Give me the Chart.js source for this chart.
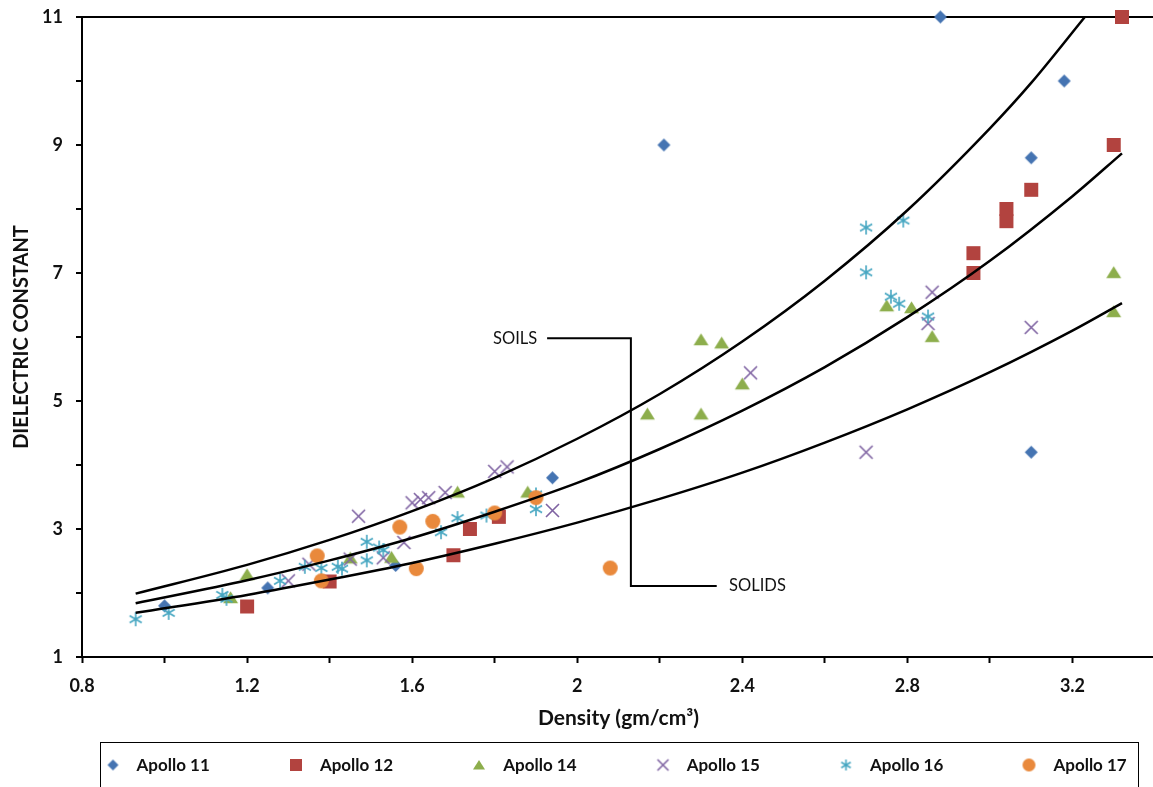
<!DOCTYPE html>
<html>
<head>
<meta charset="utf-8">
<script src="https://cdn.jsdelivr.net/npm/chart.js@4.4.1/dist/chart.umd.min.js"></script>
<style>
  body { margin: 0; overflow: hidden; background: #fff; }
  #wrap { position: relative; width: 1153px; height: 787px; overflow: hidden; }
  #legend {
    position: absolute; left: 100px; top: 742px; width: 1039px; height: 70px;
    box-sizing: border-box; border: 1.5px solid #000;
    display: flex; padding: 11.5px 0 0 3.5px;
    font: bold 17px Lato, sans-serif; color: #111;
  }
  #legend .item { flex: 0 0 183.4px; display: flex; align-items: center; height: 20px; }
  #legend canvas { width: 16px; height: 16px; margin-right: 16px; }
</style>
</head>
<body>
<div id="wrap">
  <canvas id="chart" width="1163" height="787"></canvas>
  <div id="legend"></div>
</div>
<script>
// measured points, density (gm/cm3) vs dielectric constant
const apollo11X = [1.00, 1.25, 1.56, 1.94, 2.21, 2.88, 3.18, 3.10, 3.10]
const apollo11Y = [1.80, 2.08, 2.43, 3.80, 9.00, 11.0, 10.0, 8.80, 4.20]

const apollo12X = [1.20, 1.40, 1.70, 1.74, 1.81, 2.96, 2.96, 3.04, 3.04, 3.10, 3.30, 3.32]
const apollo12Y = [1.79, 2.18, 2.59, 3.00, 3.19, 7.31, 7.00, 7.81, 8.00, 8.30, 9.00, 11.0]

const apollo14X = [1.16, 1.20, 1.45, 1.55, 1.71, 1.88, 2.17, 2.30, 2.30, 2.35, 2.40, 2.75, 2.81, 2.86, 3.30, 3.30]
const apollo14Y = [1.93, 2.29, 2.55, 2.56, 3.58, 3.58, 4.80, 5.96, 4.80, 5.91, 5.27, 6.49, 6.46, 6.01, 7.01, 6.40]

const apollo15X = [1.30, 1.35, 1.45, 1.47, 1.53, 1.58, 1.60, 1.62, 1.64, 1.68, 1.80, 1.83, 1.94, 2.42, 2.70, 2.85, 2.86, 3.10]
const apollo15Y = [2.19, 2.45, 2.53, 3.20, 2.55, 2.79, 3.41, 3.46, 3.49, 3.57, 3.90, 3.97, 3.29, 5.44, 4.20, 6.21, 6.70, 6.15]

const apollo16X = [0.93, 1.01, 1.14, 1.15, 1.28, 1.34, 1.38, 1.42, 1.43, 1.49, 1.49, 1.52, 1.53, 1.67, 1.71, 1.78, 1.90, 1.90, 2.70, 2.79, 2.70, 2.76, 2.78, 2.85]
const apollo16Y = [1.59, 1.69, 1.97, 1.91, 2.19, 2.41, 2.39, 2.41, 2.38, 2.80, 2.51, 2.71, 2.67, 2.95, 3.17, 3.21, 3.54, 3.31, 7.71, 7.82, 7.01, 6.63, 6.52, 6.32]

const apollo17X = [1.37, 1.38, 1.57, 1.61, 1.65, 1.80, 1.90, 2.08]
const apollo17Y = [2.58, 2.19, 3.03, 2.38, 3.12, 3.25, 3.49, 2.39]

// the three trend curves
const upperX = [0.93, 1.2, 1.4, 1.6, 1.8, 2.0, 2.2, 2.4, 2.6, 2.8, 3.0, 3.1, 3.23]
const upperY = [1.99, 2.44, 2.83, 3.28, 3.80, 4.41, 5.11, 5.93, 6.88, 7.98, 9.26, 9.97, 11.0]
const middleX = [0.93, 1.2, 1.4, 1.6, 1.8, 2.0, 2.2, 2.4, 2.6, 2.8, 3.0, 3.2, 3.32]
const middleY = [1.84, 2.20, 2.51, 2.86, 3.27, 3.72, 4.25, 4.85, 5.53, 6.31, 7.19, 8.20, 8.87]
const lowerX = [0.93, 1.2, 1.4, 1.6, 1.8, 2.0, 2.2, 2.4, 2.6, 2.8, 3.0, 3.2, 3.32]
const lowerY = [1.69, 1.97, 2.21, 2.47, 2.77, 3.10, 3.47, 3.88, 4.35, 4.87, 5.45, 6.10, 6.53]

// SOILS / SOLIDS callout
const calloutX = [1.927, 2.13, 2.13, 2.338]
const calloutY = [5.98, 5.98, 2.11, 2.11]
const soilsAt = [1.903, 5.98]
const solidsAt = [2.368, 2.11]

const xTicks = ['0.8', '1.2', '1.6', '2', '2.4', '2.8', '3.2']
const yTicks = ['1', '3', '5', '7', '9', '11']

const pairs = (xs, ys) => xs.map((x, i) => ({ x: x, y: ys[i] }))

const series = [
  { label: 'Apollo 11', xs: apollo11X, ys: apollo11Y, shape: 'diamond', color: '#4574B2', size: 13, legendSize: 11 },
  { label: 'Apollo 12', xs: apollo12X, ys: apollo12Y, shape: 'square', color: '#B2433F', size: 14, legendSize: 12 },
  { label: 'Apollo 14', xs: apollo14X, ys: apollo14Y, shape: 'triangle', color: '#8DAE4C', size: 15, legendSize: 12 },
  { label: 'Apollo 15', xs: apollo15X, ys: apollo15Y, shape: 'cross', color: '#7F63A2', size: 13, legendSize: 11 },
  { label: 'Apollo 16', xs: apollo16X, ys: apollo16Y, shape: 'asterisk', color: '#45A6C1', size: 14, legendSize: 11 },
  { label: 'Apollo 17', xs: apollo17X, ys: apollo17Y, shape: 'circle', color: '#E9893C', size: 15, legendSize: 13 }
]

function makeMarker(shape, color, size) {
  const c = document.createElement('canvas')
  c.width = c.height = size + 4
  const g = c.getContext('2d')
  const m = c.width / 2
  const r = size / 2
  g.fillStyle = color
  g.strokeStyle = color
  g.lineWidth = 1.6
  g.beginPath()
  if (shape === 'diamond') {
    g.moveTo(m, m - r); g.lineTo(m + r, m); g.lineTo(m, m + r); g.lineTo(m - r, m)
    g.closePath(); g.fill()
  } else if (shape === 'square') {
    g.rect(m - r, m - r, size, size); g.fill()
  } else if (shape === 'triangle') {
    g.moveTo(m, m - r * 0.85); g.lineTo(m + r, m + r * 0.75); g.lineTo(m - r, m + r * 0.75)
    g.closePath(); g.fill()
  } else if (shape === 'cross') {
    g.moveTo(m - r, m - r); g.lineTo(m + r, m + r)
    g.moveTo(m + r, m - r); g.lineTo(m - r, m + r)
    g.stroke()
  } else if (shape === 'asterisk') {
    g.moveTo(m, m - r); g.lineTo(m, m + r)
    for (const a of [Math.PI / 6, -Math.PI / 6]) {
      g.moveTo(m - r * Math.cos(a), m - r * Math.sin(a))
      g.lineTo(m + r * Math.cos(a), m + r * Math.sin(a))
    }
    g.stroke()
  } else {
    g.arc(m, m, r, 0, Math.PI * 2); g.fill()
  }
  return c
}

const curve = (xs, ys) => ({
  type: 'line',
  data: pairs(xs, ys),
  borderColor: '#000',
  borderWidth: 2.5,
  pointRadius: 0,
  cubicInterpolationMode: 'monotone',
  fill: false,
  order: 0,
  clip: false
})

const datasets = series.map((s, i) => ({
  type: 'scatter',
  label: s.label,
  data: pairs(s.xs, s.ys),
  pointStyle: makeMarker(s.shape, s.color, s.size),
  pointRadius: 7,
  order: series.length - i + 1,
  clip: false
}))
datasets.push(curve(upperX, upperY), curve(middleX, middleY), curve(lowerX, lowerY))
datasets.push({
  type: 'line',
  data: pairs(calloutX, calloutY),
  borderColor: '#000',
  borderWidth: 2,
  pointRadius: 0,
  tension: 0,
  order: 0
})

const calloutText = {
  id: 'calloutText',
  afterDatasetsDraw(chart) {
    const { ctx, scales: { x, y } } = chart
    ctx.save()
    ctx.font = '16.5px Lato'
    ctx.fillStyle = '#111'
    ctx.textBaseline = 'middle'
    ctx.textAlign = 'right'
    ctx.fillText('SOILS', x.getPixelForValue(soilsAt[0]), y.getPixelForValue(soilsAt[1]))
    ctx.textAlign = 'left'
    ctx.fillText('SOLIDS', x.getPixelForValue(solidsAt[0]), y.getPixelForValue(solidsAt[1]))
    ctx.restore()
  }
}

const labelFor = (list) => (value) => {
  const text = String(+Number(value).toFixed(1))
  return list.includes(text) ? text : ''
}

Chart.defaults.font.family = 'Lato'
Chart.defaults.color = '#111'

new Chart(document.getElementById('chart'), {
  type: 'scatter',
  data: { datasets: datasets },
  options: {
    responsive: false,
    animation: false,
    events: [],
    layout: { padding: { top: 17, left: 0, right: 0, bottom: 52 } },
    plugins: { legend: { display: false }, tooltip: { enabled: false } },
    scales: {
      x: {
        type: 'linear',
        min: 0.8,
        max: 3.4,
        ticks: { stepSize: 0.2, autoSkip: false, maxRotation: 0, padding: 12,
          font: { size: 18, weight: 'bold' }, callback: labelFor(xTicks) },
        grid: { drawOnChartArea: false, tickLength: 6, tickColor: '#000', tickWidth: 2 },
        border: { color: '#000', width: 2 },
        title: { display: true, text: 'Density (gm/cm³)', font: { size: 21, weight: 'bold' },
          padding: { top: 0, bottom: 4 } },
        afterFit(scale) {
          scale.height = 78
          scale.paddingLeft = 0
          scale.paddingRight = 0
        }
      },
      y: {
        min: 1,
        max: 11,
        ticks: { stepSize: 1, padding: 13, font: { size: 18, weight: 'bold' }, callback: labelFor(yTicks) },
        grid: {
          color: (c) => (c.tick && c.tick.value === 11 ? '#000' : 'rgba(0,0,0,0)'),
          lineWidth: 2, tickLength: 6, tickColor: '#000', tickWidth: 2
        },
        border: { color: '#000', width: 2 },
        title: { display: true, text: 'DIELECTRIC CONSTANT', font: { size: 20, weight: 'bold' },
          padding: { top: 10, bottom: 4 } },
        afterFit(scale) {
          scale.width = 82
          scale.paddingTop = 10
          scale.paddingBottom = 10
        }
      }
    }
  },
  plugins: [calloutText]
})

// legend box under the plot
const legend = document.getElementById('legend')
series.forEach((s) => {
  const item = document.createElement('div')
  item.className = 'item'
  const icon = document.createElement('canvas')
  icon.width = icon.height = 16
  const marker = makeMarker(s.shape, s.color, s.legendSize)
  icon.getContext('2d').drawImage(marker, (16 - marker.width) / 2, (16 - marker.height) / 2)
  const text = document.createElement('span')
  text.textContent = s.label
  item.appendChild(icon)
  item.appendChild(text)
  legend.appendChild(item)
})
</script>
</body>
</html>
